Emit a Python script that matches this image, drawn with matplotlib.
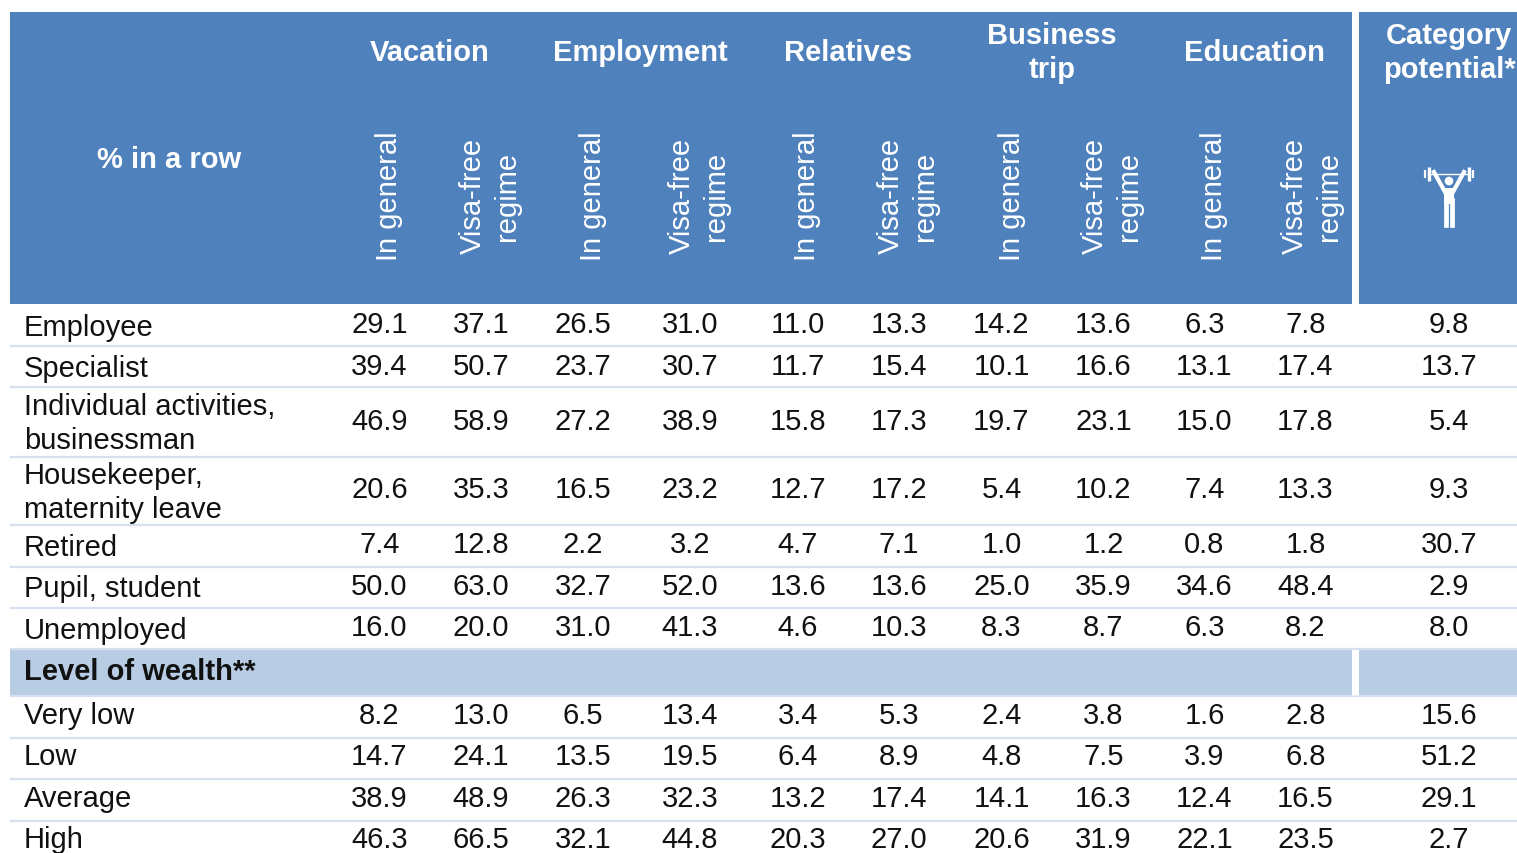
import matplotlib
matplotlib.use('Agg')
import matplotlib.pyplot as plt
from matplotlib.patches import Rectangle, Circle

plt.rcParams['font.family'] = ['Liberation Sans', 'DejaVu Sans']

groups = ['Vacation', 'Employment', 'Relatives', 'Business\ntrip', 'Education']
sub_labels = ['In general', 'Visa-free\nregime']
last_header = 'Category\npotential*'
corner = '% in a row'
section = 'Level of wealth**'

row_labels = ['Employee', 'Specialist', 'Individual activities,\nbusinessman',
              'Housekeeper,\nmaternity leave', 'Retired', 'Pupil, student', 'Unemployed',
              'Very low', 'Low', 'Average', 'High']

vacation_gen = [29.1, 39.4, 46.9, 20.6, 7.4, 50.0, 16.0, 8.2, 14.7, 38.9, 46.3]
vacation_free = [37.1, 50.7, 58.9, 35.3, 12.8, 63.0, 20.0, 13.0, 24.1, 48.9, 66.5]
employ_gen = [26.5, 23.7, 27.2, 16.5, 2.2, 32.7, 31.0, 6.5, 13.5, 26.3, 32.1]
employ_free = [31.0, 30.7, 38.9, 23.2, 3.2, 52.0, 41.3, 13.4, 19.5, 32.3, 44.8]
relatives_gen = [11.0, 11.7, 15.8, 12.7, 4.7, 13.6, 4.6, 3.4, 6.4, 13.2, 20.3]
relatives_free = [13.3, 15.4, 17.3, 17.2, 7.1, 13.6, 10.3, 5.3, 8.9, 17.4, 27.0]
business_gen = [14.2, 10.1, 19.7, 5.4, 1.0, 25.0, 8.3, 2.4, 4.8, 14.1, 20.6]
business_free = [13.6, 16.6, 23.1, 10.2, 1.2, 35.9, 8.7, 3.8, 7.5, 16.3, 31.9]
education_gen = [6.3, 13.1, 15.0, 7.4, 0.8, 34.6, 6.3, 1.6, 3.9, 12.4, 22.1]
education_free = [7.8, 17.4, 17.8, 13.3, 1.8, 48.4, 8.2, 2.8, 6.8, 16.5, 23.5]
potential = [9.8, 13.7, 5.4, 9.3, 30.7, 2.9, 8.0, 15.6, 51.2, 29.1, 2.7]

columns = [vacation_gen, vacation_free, employ_gen, employ_free, relatives_gen, relatives_free,
           business_gen, business_free, education_gen, education_free, potential]

# layout in pixels of the 1517x854 picture
col_x = [379.5, 481, 583, 690, 798, 899, 1001.5, 1103.5, 1204.5, 1305.5, 1449]
row_y = [324, 366, 421, 489, 544, 586, 627, 715, 756, 798, 839]
label_y = [327, 368, 423, 492, 547, 588, 630, 715, 756, 798, 839]
group_x = [430, 640, 848, 1052, 1254]
rot_x = [389.5, 490, 593.5, 699, 807.5, 908, 1011.5, 1112, 1214.5, 1312]
line_y = [345.5, 387, 457, 525, 567, 608, 648.5, 696, 737.5, 779, 820.5]

blue = '#4f81bd'
band = '#b8cce4'
rule = '#d6e0ef'
fs = 21

fig = plt.figure(figsize=(15.17, 8.54), dpi=100)
ax = fig.add_axes([0, 0, 1, 1])
ax.set_xlim(0, 1517)
ax.set_ylim(853, -1)
ax.axis('off')

ax.add_patch(Rectangle((10, 12), 1342, 292, fc=blue, ec='none'))
ax.add_patch(Rectangle((1359, 12), 158, 292, fc=blue, ec='none'))
ax.add_patch(Rectangle((10, 650), 1342, 45, fc=band, ec='none'))
ax.add_patch(Rectangle((1359, 650), 158, 45, fc=band, ec='none'))

for y in line_y:
    ax.plot([10, 1517], [y, y], color=rule, lw=1.6, solid_capstyle='butt')
ax.plot([1355.5, 1355.5], [650, 695], color='white', lw=5, solid_capstyle='butt')

# header
ax.text(169, 159, corner, color='white', fontsize=fs, fontweight='bold', ha='center', va='center')
for name, x in zip(groups, group_x):
    ax.text(x, 52, name, color='white', fontsize=fs, fontweight='bold', ha='center', va='center',
            linespacing=1.26)
ax.text(1449, 52, last_header, color='white', fontsize=fs, fontweight='bold', ha='center', va='center',
        linespacing=1.26)
for i, x in enumerate(rot_x):
    if i % 2 == 0:
        ax.text(x, 260, sub_labels[0], color='white', fontsize=fs, rotation=90, ha='center', va='bottom',
                rotation_mode='default')
    else:
        ax.text(x, 195, sub_labels[1], color='white', fontsize=fs, rotation=90, ha='center', va='center',
                linespacing=1.24, multialignment='center')

# weightlifter icon
ix = 1449
ax.plot([1428, 1470], [174, 174], color='white', lw=1.0)
for dx, y0, y1, w in [(-24, 170, 178, 1.6), (-20, 167, 181, 2.4), (20, 167, 181, 2.4), (24, 170, 178, 1.6)]:
    ax.plot([ix + dx, ix + dx], [y0, y1], color='white', lw=w, solid_capstyle='butt')
ax.plot([1434, 1445], [172, 192], color='white', lw=3.0)
ax.plot([1464, 1453], [172, 192], color='white', lw=3.0)
ax.add_patch(Circle((ix, 181), 4.3, fc='white', ec='none'))
ax.add_patch(Rectangle((1444, 188), 10, 16, fc='white', ec='none'))
ax.plot([1446.4, 1446.4], [200, 225], color='white', lw=3.4)
ax.plot([1451.6, 1451.6], [200, 225], color='white', lw=3.4)

# body
for lab, y in zip(row_labels, label_y):
    ax.text(24, y, lab, color='#111111', fontsize=fs, ha='left', va='center', linespacing=1.24)
for col, x in zip(columns, col_x):
    for val, y in zip(col, row_y):
        ax.text(x, y, '%.1f' % val, color='#111111', fontsize=fs, ha='center', va='center')
ax.text(24, 671, section, color='#111111', fontsize=fs, fontweight='bold', ha='left', va='center')

fig.savefig('out.png', dpi=100)
